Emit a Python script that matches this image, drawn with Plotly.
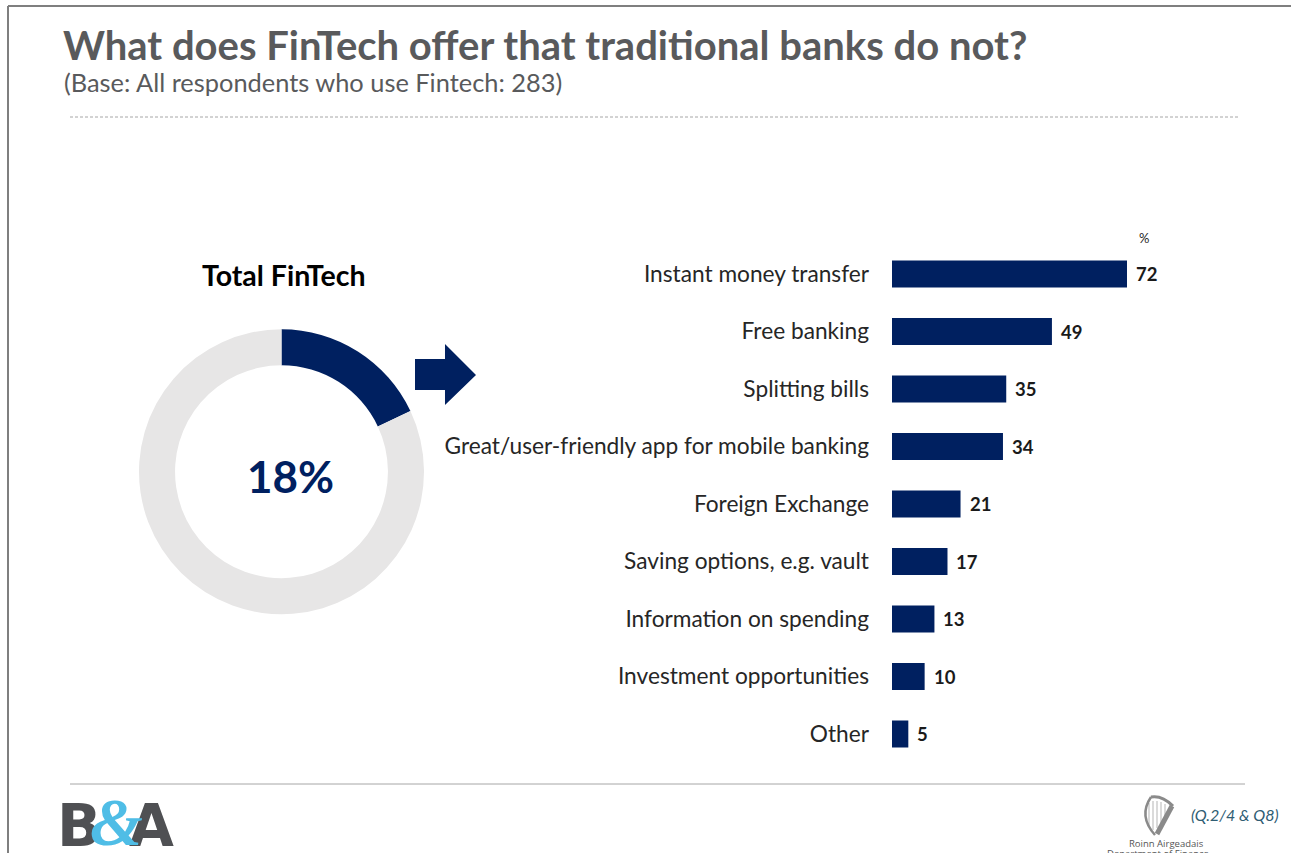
import plotly.graph_objects as go

W, H = 1291, 853

# Bar chart data
categories = [
    "Instant money transfer",
    "Free banking",
    "Splitting bills",
    "Great/user-friendly app for mobile banking",
    "Foreign Exchange",
    "Saving options, e.g. vault",
    "Information on spending",
    "Investment opportunities",
    "Other",
]
values = [72, 49, 35, 34, 21, 17, 13, 10, 5]

# Ring data
ring_labels = ["FinTech", "Other"]
ring_values = [18, 82]

NAVY = "#002060"
RING_GREY = "#E7E6E6"
HEAD_GREY = "#595A5C"
TEXT = "#262626"
HARP = "#8A8A8A"


def fx(px):
    return px / W


def fy(py):
    return 1 - py / H


def note(px, py, text, size, color=TEXT, family="Lato", anchor="left", **kw):
    return dict(
        xref="paper", yref="paper", x=fx(px), y=fy(py), text=text,
        showarrow=False, xanchor=anchor, yanchor="middle",
        font=dict(size=size, color=color, family=family), **kw,
    )


def hline(x0, x1, py, color, width, dash="solid"):
    return dict(
        type="line", xref="paper", yref="paper",
        x0=fx(x0), x1=fx(x1), y0=fy(py), y1=fy(py),
        line=dict(color=color, width=width, dash=dash),
    )


def paper_path(points):
    return "M " + " L ".join(f"{fx(x):.5f} {fy(y):.5f}" for x, y in points) + " Z"


def curve(color, width, *cmds):
    """Path in pixel terms: each command is (letter, x, y, x, y, ...)."""
    parts = []
    for c in cmds:
        coords = c[1:]
        xy = [f"{fx(coords[i]):.5f} {fy(coords[i + 1]):.5f}" for i in range(0, len(coords), 2)]
        parts.append(c[0] + " " + " ".join(xy))
    return dict(type="path", xref="paper", yref="paper",
                line=dict(color=color, width=width), path=" ".join(parts))


fig = go.Figure()

fig.add_trace(go.Pie(
    labels=ring_labels, values=ring_values, hole=0.747, sort=False,
    direction="clockwise", rotation=0, textinfo="none", hoverinfo="label+value",
    marker=dict(colors=[NAVY, RING_GREY], line=dict(width=0)),
    domain=dict(x=[fx(139), fx(424)], y=[fy(614.5), fy(329)]),
    showlegend=False,
))

fig.add_trace(go.Bar(
    x=values, y=categories, orientation="h", marker=dict(color=NAVY, line=dict(width=0)),
    width=0.47, showlegend=False, hovertemplate="%{y}: %{x}%<extra></extra>",
))

annotations = [
    note(61, 45, "<b>What does FinTech offer that traditional banks do not?</b>", 40, HEAD_GREY),
    note(62, 82, "(Base: All respondents who use Fintech: 283)", 25.4, HEAD_GREY),
    note(284, 275, "<b>Total FinTech</b>", 28.5, "#000000", anchor="center"),
    note(290, 476, "<b>18%</b>", 44, NAVY, anchor="center"),
    note(1144, 238, "%", 13, TEXT, "Lato", anchor="center"),
    note(1235, 814, "<i>(Q.2/4 &amp; Q8)</i>", 16, "#2F5D73", "Lato", anchor="center"),
    note(1166, 843, "Roinn Airgeadais", 9.5, "#555555", "Open Sans", anchor="center"),
    note(1158, 853, "Department of Finance", 9.5, "#555555", "Open Sans", anchor="center"),
    # Agency wordmark: heavy capitals with a larger ampersand laid over them
    note(55, 826, "<b>B</b>", 58, "#4F5053", "DejaVu Sans"),
    note(127, 826, "<b>A</b>", 58, "#4F5053", "DejaVu Sans"),
    note(88, 822, "<b><i>&amp;</i></b>", 68, "#4FBDE6", "Liberation Serif"),
]
for cat, val in zip(categories, values):
    annotations.append(dict(
        xref="x", yref="y", x=val, y=cat, text=f"<b>{val}</b>", showarrow=False,
        xanchor="left", xshift=7, yanchor="middle",
        font=dict(size=18.5, color="#1A1A1A", family="Lato"),
    ))

shapes = [
    hline(8, W, 6, "#7F7F7F", 2),
    dict(type="line", xref="paper", yref="paper", x0=fx(8), x1=fx(8), y0=fy(6), y1=0,
         line=dict(color="#7F7F7F", width=2)),
    hline(70, 1239, 117, "#A6A6A6", 1, "3px,2px"),
    hline(70, 1245, 784, "#A6A6A6", 1),
    # Arrow between the ring and the bars
    dict(type="path", xref="paper", yref="paper", line=dict(width=0), fillcolor=NAVY,
         path=paper_path([(415, 359), (445, 359), (445, 344), (476, 375),
                           (445, 405), (445, 390), (415, 390)])),
]

# Harp emblem: strings first, then pillar, neck and soundbox on top
for sx, top, bottom in [(1149, 803, 826), (1153, 801, 830), (1157, 801, 828),
                        (1161, 802, 824), (1165, 804, 818)]:
    shapes.append(dict(type="line", xref="paper", yref="paper",
                       x0=fx(sx), x1=fx(sx), y0=fy(top), y1=fy(bottom),
                       line=dict(color="#B5B5B5", width=1)))
shapes += [
    curve(HARP, 2.5, ("M", 1151, 797), ("Q", 1138, 816, 1155, 835)),
    curve(HARP, 3, ("M", 1151, 797), ("Q", 1162, 795, 1173, 806)),
    curve(HARP, 5, ("M", 1172, 806), ("L", 1157, 834)),
]

fig.update_layout(
    width=W, height=H, margin=dict(l=0, r=0, t=0, b=0),
    paper_bgcolor="white", plot_bgcolor="white",
    xaxis=dict(domain=[fx(892), fx(1127)], range=[0, 72], visible=False, fixedrange=True),
    yaxis=dict(
        domain=[fy(762.75), fy(245.25)], autorange="reversed", type="category",
        showline=False, showgrid=False, ticks="", ticklabelstandoff=22,
        tickfont=dict(size=22.7, color=TEXT, family="Lato"), fixedrange=True,
    ),
    annotations=annotations, shapes=shapes,
)

fig.write_html("out.html")
